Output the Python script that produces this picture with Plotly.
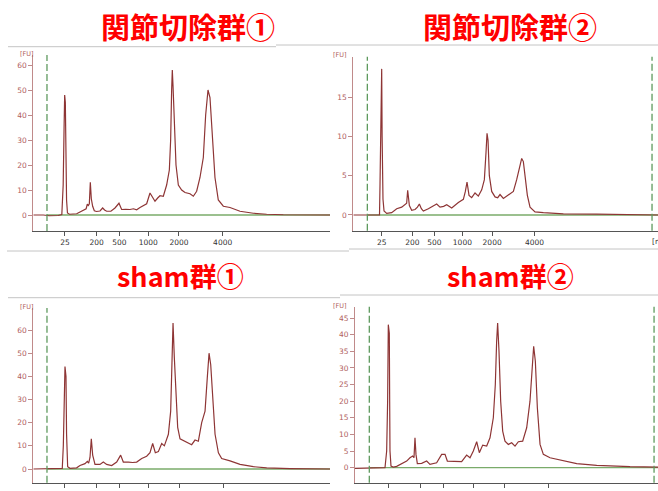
import plotly.graph_objects as go

W, H = 658, 491

# ---------------- data (migration time in s, fluorescence in FU) ----------------
ladder_time = [22.0, 29.04, 34.07, 40.51, 47.33, 57.04]
ladder_text = ["25", "200", "500", "1000", "2000", "4000"]

titles = ["関節切除群①", "関節切除群②", "sham群①", "sham群②"]

p1_time = [14.96, 16.0, 17.2, 18.5, 20.5, 21.3, 21.6, 21.8, 21.93, 22.08, 22.2, 22.35, 22.55, 23.0,
           24.6, 25.3, 26.1, 26.7, 26.96, 27.2, 27.41, 27.63, 27.85, 28.15, 28.52, 29.0, 29.78,
           30.37, 30.8, 31.26, 32.2, 33.11, 34.0, 34.59, 35.5, 36.44, 37.2, 37.93, 38.67, 39.5,
           40.15, 40.89, 41.4, 42.0, 42.6, 43.11, 43.85, 44.59, 45.19, 45.48, 45.7, 45.85, 46.0,
           46.3, 46.67, 47.19, 47.93, 48.67, 49.78, 50.52, 51.26, 52.0, 52.74, 53.26, 53.78,
           54.22, 54.74, 55.33, 56.07, 57.19, 58.67, 60.89, 63.85, 66.81, 70.52, 75.0, 80.89]
p1_fu = [0.0, 0.1, 0.0, -0.3, -0.2, 0.2, 12, 35, 48, 45, 25, 6, 0.8, 0.3,
         0.5, 1.2, 2.0, 2.5, 4.3, 3.8, 4.5, 13.1, 6.5, 3.5, 1.7, 1.4, 1.6,
         2.8, 2.0, 1.5, 1.5, 2.8, 4.7, 2.2, 2.3, 2.2, 2.5, 2.1, 3.0, 3.8,
         4.5, 8.8, 7.0, 5.5, 6.8, 7.7, 7.5, 12, 18, 30, 50, 58, 52,
         40, 20, 12, 10, 9, 8.5, 7.5, 9.5, 15, 23, 40, 50,
         47, 30, 15, 6, 3.5, 3.0, 1.5, 0.7, 0.3, 0.1, 0.0, 0.0]

p2_time = [15.5, 18.0, 20.0, 21.5, 21.62, 21.75, 21.85, 22.0, 22.1, 22.15, 22.3, 22.54, 23.15,
           24.29, 25.44, 26.59, 27.35, 27.73, 27.96, 28.15, 28.35, 28.88, 29.65, 30.2, 30.64,
           31.1, 31.56, 32.7, 33.8, 34.61, 35.38, 36.2, 36.91, 38.06, 39.58, 40.73, 41.19,
           41.57, 42.03, 42.64, 43.41, 44.17, 44.94, 45.55, 45.93, 46.16, 46.39, 46.69, 47.23,
           48.0, 48.6, 49.14, 49.91, 51.05, 52.2, 52.96, 53.73, 54.11, 54.49, 54.88, 55.41,
           56.02, 57.17, 59.08, 63.67, 71.31, 78.96, 85.37]
p2_fu = [0.0, 0.0, -0.05, 0.0, 4.0, 12, 17.2, 18.6, 10, 4.5, 2.0, 0.5, 0.2,
         0.3, 0.8, 1.0, 1.3, 1.5, 3.15, 2.0, 1.2, 0.6, 0.7, 1.0, 1.4,
         0.8, 0.5, 0.8, 1.2, 1.4, 1.0, 1.1, 1.3, 0.9, 1.6, 2.0, 3.0,
         4.2, 2.5, 2.2, 2.8, 2.4, 3.2, 4.5, 8.0, 10.4, 9.5, 5.0, 3.0,
         2.3, 2.2, 2.6, 2.1, 2.5, 3.0, 4.5, 6.5, 7.2, 6.8, 5.0, 2.5,
         1.0, 0.4, 0.3, 0.15, 0.1, 0.05, 0.0]

p3_time = [14.98, 18.0, 20.89, 21.4, 21.63, 21.85, 22.0, 22.22, 22.35, 22.59, 23.11, 24.58,
           25.32, 26.43, 26.95, 27.24, 27.54, 27.83, 28.13, 28.65, 29.75, 30.49, 31.23, 32.34,
           33.45, 34.33, 34.92, 36.03, 37.0, 37.88, 38.99, 40.09, 40.83, 41.42, 42.01, 42.68,
           43.42, 44.01, 44.9, 45.41, 45.71, 45.93, 46.22, 46.59, 46.96, 47.48, 48.59, 49.33,
           50.06, 50.8, 51.54, 52.28, 53.02, 53.54, 53.91, 54.28, 54.73, 55.24, 55.98, 56.71,
           58.56, 60.77, 63.73, 66.68, 71.85, 80.7]
p3_fu = [0.0, 0.0, 0.0, 0.3, 10, 35, 44.2, 39.9, 15, 1.0, 0.3, 0.5,
         1.5, 2.3, 3.3, 2.5, 5.0, 13.0, 6.0, 2.0, 2.0, 3.0, 2.0, 1.5,
         3.0, 6.0, 3.0, 3.0, 2.8, 3.0, 4.5, 5.5, 7.0, 11.0, 7.0, 7.5,
         11.0, 10.0, 15.0, 25.0, 45.0, 63.0, 48.0, 30.0, 18.0, 13.0, 12.0, 11.5,
         10.5, 12.5, 12.0, 20.0, 25.0, 40.0, 50.0, 45.0, 28.0, 15.0, 7.0, 4.5,
         3.5, 2.0, 1.0, 0.5, 0.2, 0.0]

p4_time = [14.52, 18.0, 21.12, 21.49, 21.7, 21.85, 22.07, 22.15, 22.22, 22.44, 22.95, 23.69,
           24.42, 25.15, 25.89, 26.62, 27.21, 27.5, 27.72, 27.94, 28.24, 29.19, 30.29, 31.02,
           32.49, 33.59, 34.33, 34.84, 36.89, 37.99, 39.09, 39.83, 40.56, 41.3, 41.88, 42.62,
           43.5, 44.23, 44.96, 45.4, 45.69, 45.91, 46.21, 46.58, 47.02, 47.53, 48.27, 49.0,
           49.73, 50.47, 51.42, 52.3, 53.03, 53.55, 53.84, 54.21, 54.65, 55.24, 55.97, 57.44,
           60.37, 63.31, 67.71, 71.38, 75.05, 81.2]
p4_fu = [-0.2, -0.2, 0.0, 5.0, 20, 43.0, 40.4, 20, 5.0, 0.5, 0.2, 0.4,
         1.0, 1.5, 2.0, 3.0, 3.5, 3.0, 9.0, 4.0, 1.2, 1.3, 2.0, 1.0,
         1.5, 4.0, 4.0, 2.0, 2.0, 1.8, 3.8, 3.0, 5.0, 7.8, 4.5, 6.8,
         6.5, 9.0, 15.0, 25.0, 38.0, 43.5, 35.0, 20.0, 11.0, 8.0, 7.0, 7.5,
         6.5, 7.8, 8.0, 12.0, 20.0, 32.0, 36.5, 32.0, 18.0, 7.0, 4.0, 3.0,
         2.0, 1.2, 0.7, 0.5, 0.3, 0.2]

y_ticks = [[0, 10, 20, 30, 40, 50, 60], [0, 5, 10, 15], [0, 10, 20, 30, 40, 50, 60],
           [0, 5, 10, 15, 20, 25, 30, 35, 40, 45]]
marker_left = [18.0, 18.71, 18.01, 17.67]
marker_right = [None, 84.0, None, 80.33]

series = [(p1_time, p1_fu), (p2_time, p2_fu), (p3_time, p3_fu), (p4_time, p4_fu)]

# ---------------- layout (pixel geometry of each panel) ----------------
panels = [
    dict(px=(33.3, 330), py=(55, 231), xr=(14.96, 80.89), yr=(-6.4, 64), labels=True, fu=(18, 54)),
    dict(px=(353.3, 658), py=(56.7, 230.7), xr=(15.49, 85.37), yr=(-2.0, 20.15), labels=True, fu=(339.5, 55)),
    dict(px=(33.3, 330), py=(308, 482.7), xr=(14.98, 80.7), yr=(-5.91, 69.5), labels=False, fu=(18, 306.5)),
    dict(px=(355, 658), py=(306.7, 482.7), xr=(14.52, 81.2), yr=(-4.51, 48.4), labels=False, fu=(340, 305.5)),
]

def px2x(p):
    return p / W

def py2y(p):
    return 1 - p / H

fig = go.Figure()
shapes = []
annotations = []
TRACE = "#8e3535"
GREEN = "#5e9a5e"
YCOL = "#b06060"

for i, (pan, (t, fu)) in enumerate(zip(panels, series)):
    n = i + 1
    xa = "x" if n == 1 else f"x{n}"
    ya = "y" if n == 1 else f"y{n}"
    # green baseline
    fig.add_trace(go.Scatter(x=[marker_left[i], pan["xr"][1]], y=[0, 0], mode="lines",
                             line=dict(color="#7aab6a", width=1.3), xaxis=xa, yaxis=ya,
                             showlegend=False, hoverinfo="skip"))
    fig.add_trace(go.Scatter(x=t, y=fu, mode="lines", line=dict(color=TRACE, width=1.2),
                             xaxis=xa, yaxis=ya, showlegend=False))
    xkey = "xaxis" if n == 1 else f"xaxis{n}"
    ykey = "yaxis" if n == 1 else f"yaxis{n}"
    fig.update_layout(**{
        xkey: dict(domain=[px2x(pan["px"][0]), px2x(pan["px"][1])], range=list(pan["xr"]),
                   anchor=ya, showline=True, linecolor="#555555", linewidth=1, ticks="outside",
                   ticklen=4, tickcolor="#555555", tickvals=ladder_time, ticktext=ladder_text,
                   showticklabels=pan["labels"], tickfont=dict(size=7.5, color="#333333",
                   family="DejaVu Sans"), showgrid=False, zeroline=False, fixedrange=True),
        ykey: dict(domain=[py2y(pan["py"][1]), py2y(pan["py"][0])], range=list(pan["yr"]),
                   anchor=xa, showline=True, linecolor="#c08a8a", linewidth=1, ticks="outside",
                   ticklen=4, tickcolor="#c08a8a", tickvals=y_ticks[i],
                   tickfont=dict(size=7.5, color=YCOL, family="DejaVu Sans"),
                   showgrid=False, zeroline=False, fixedrange=True),
    })
    for xm in (marker_left[i], marker_right[i]):
        if xm is None:
            continue
        shapes.append(dict(type="line", xref=xa, x0=xm, x1=xm, yref=f"{ya} domain", y0=0, y1=1,
                           line=dict(color=GREEN, width=1.3, dash="7px,3px")))
    annotations.append(dict(text="[FU]", xref="paper", yref="paper", x=px2x(pan["fu"][0]),
                            y=py2y(pan["fu"][1]), showarrow=False, yanchor="middle",
                            font=dict(size=6.5, color=YCOL, family="DejaVu Sans")))

# "[nt]" cut at the right edge of the second panel
annotations.append(dict(text="[nt]", xref="paper", yref="paper", x=px2x(650), y=py2y(241),
                        xanchor="left", showarrow=False,
                        font=dict(size=7.5, color="#333333", family="DejaVu Sans")))

# titles
title_pos = [(187.5, 26, 29), (510, 26, 29), (180, 275, 27), (511, 275, 27)]
for txt, (cx, cy, fs) in zip(titles, title_pos):
    annotations.append(dict(text=f"<b>{txt}</b>", xref="paper", yref="paper", x=px2x(cx),
                            y=py2y(cy), showarrow=False, xanchor="center", yanchor="middle",
                            font=dict(size=fs, color="#ff0000", family="Noto Sans CJK JP")))

# screenshot border lines
borders = [(8, 276, 46.7), (276, 658, 45), (7, 349, 251), (349, 658, 249),
           (8, 340, 297.7), (340, 658, 295)]
for x0, x1, yy in borders:
    shapes.append(dict(type="line", xref="paper", yref="paper", x0=px2x(x0), x1=px2x(x1),
                       y0=py2y(yy), y1=py2y(yy), line=dict(color="#c4c4c4", width=1)))

fig.update_layout(width=W, height=H, margin=dict(l=0, r=0, t=0, b=0),
                  paper_bgcolor="white", plot_bgcolor="white", shapes=shapes,
                  annotations=annotations, showlegend=False)

fig.write_html("out.html", config={"displayModeBar": False},
               post_script="document.body.style.margin='0';document.body.style.padding='0';")
